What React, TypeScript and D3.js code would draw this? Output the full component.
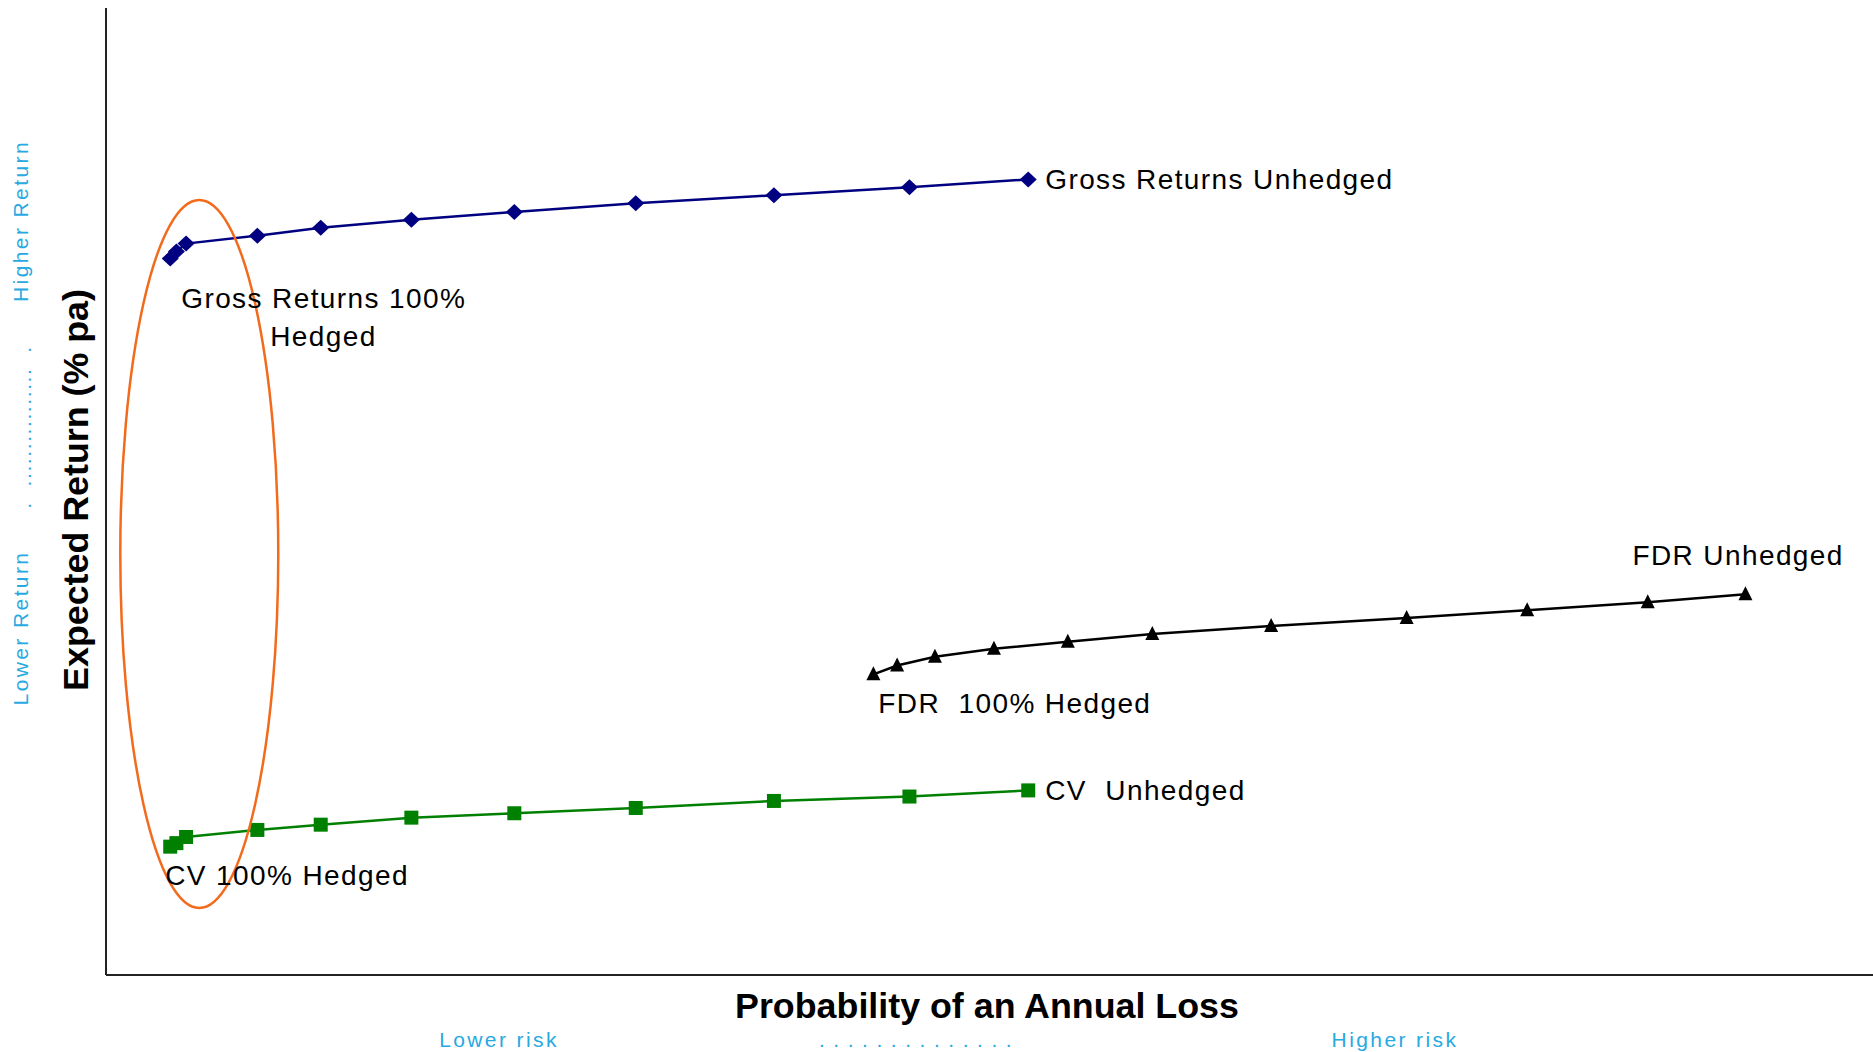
import React from "react";
import * as d3 from "d3";

// Probability of an annual loss (%) — hedge ratio steps from 100% hedged to unhedged
const grossX = [0.73, 0.8, 0.91, 1.72, 2.44, 3.47, 4.64, 6.02, 7.59, 9.13, 10.48];
const grossY = [8.15, 8.23, 8.32, 8.41, 8.5, 8.59, 8.68, 8.78, 8.87, 8.96, 9.05];
const cvX = [0.73, 0.8, 0.91, 1.72, 2.44, 3.47, 4.64, 6.02, 7.59, 9.13, 10.48];
const cvY = [1.46, 1.5, 1.57, 1.65, 1.71, 1.79, 1.84, 1.9, 1.98, 2.03, 2.1];
const fdrX = [8.72, 8.99, 9.42, 10.09, 10.93, 11.89, 13.24, 14.78, 16.15, 17.52, 18.63];
const fdrY = [3.42, 3.52, 3.62, 3.71, 3.79, 3.88, 3.97, 4.06, 4.15, 4.24, 4.33];

const xDomain = [0, 20];
const yDomain = [0, 11];

const W = 1873;
const H = 1052;
const left = 106;
const right = 1866;
const top = 8;
const bottom = 975;

const blue = "#27A9E1";
const labelFont = "'Liberation Sans', Arial, sans-serif";

export default function App() {
  const x = d3.scaleLinear().domain(xDomain).range([left, right]);
  const y = d3.scaleLinear().domain(yDomain).range([bottom, top]);
  const line = d3
    .line<[number, number]>()
    .x((d) => x(d[0]))
    .y((d) => y(d[1]))
    .curve(d3.curveLinear);

  const gross: [number, number][] = grossX.map((v, i) => [v, grossY[i]]);
  const cv: [number, number][] = cvX.map((v, i) => [v, cvY[i]]);
  const fdr: [number, number][] = fdrX.map((v, i) => [v, fdrY[i]]);

  const diamond = (cx: number, cy: number) =>
    `M${cx},${cy - 8}L${cx + 8.5},${cy}L${cx},${cy + 8}L${cx - 8.5},${cy}Z`;
  const tri = (cx: number, cy: number) =>
    `M${cx},${cy - 8}L${cx + 7},${cy + 6}L${cx - 7},${cy + 6}Z`;

  const lbl = {
    fontFamily: labelFont,
    fontSize: 28,
    letterSpacing: 1.4,
    fill: "#000",
  } as const;
  const blueTxt = {
    fontFamily: labelFont,
    fontSize: 21,
    letterSpacing: 2.4,
    fill: blue,
  } as const;

  const gLast = gross[gross.length - 1];
  const cLast = cv[cv.length - 1];
  const fFirst = fdr[0];
  const fLast = fdr[fdr.length - 1];
  const gFirst = gross[0];
  const cFirst = cv[0];

  // annotation ellipse around the hedged end
  const ellCx = x(1.06);
  const ellCy = y(4.79);

  return (
    <svg
      width={W}
      height={H}
      style={{ position: "absolute", left: 0, top: 0, background: "#fff" }}
      xmlSpace="preserve"
    >
      <rect width={W} height={H} fill="#fff" />
      {/* axes */}
      <line x1={left} y1={top} x2={left} y2={bottom} stroke="#222" strokeWidth={2} />
      <line x1={left} y1={bottom} x2={W} y2={bottom} stroke="#222" strokeWidth={2} />

      {/* series lines */}
      <path d={line(gross) || ""} fill="none" stroke="#000080" strokeWidth={2.5} />
      <path d={line(cv) || ""} fill="none" stroke="#008000" strokeWidth={2.5} />
      <path d={line(fdr) || ""} fill="none" stroke="#000" strokeWidth={2.5} />

      {/* markers */}
      {gross.map((d, i) => (
        <path key={"g" + i} d={diamond(x(d[0]), y(d[1]))} fill="#000080" />
      ))}
      {cv.map((d, i) => (
        <rect
          key={"c" + i}
          x={x(d[0]) - 7}
          y={y(d[1]) - 7}
          width={14}
          height={14}
          fill="#008000"
        />
      ))}
      {fdr.map((d, i) => (
        <path key={"f" + i} d={tri(x(d[0]), y(d[1]))} fill="#000" />
      ))}

      {/* ellipse */}
      <ellipse cx={ellCx} cy={ellCy} rx={79} ry={354} fill="none" stroke="#F26B1D" strokeWidth={2.5} />

      {/* series labels */}
      <text {...lbl} x={x(gLast[0]) + 17} y={y(gLast[1])} dy="0.35em">
        Gross Returns Unhedged
      </text>
      <text {...lbl} x={x(gFirst[0]) + 11} y={y(gFirst[1]) + 40} dy="0.35em">
        Gross Returns 100%
      </text>
      <text {...lbl} x={x(gFirst[0]) + 100} y={y(gFirst[1]) + 78} dy="0.35em">
        Hedged
      </text>
      <text {...lbl} x={x(fLast[0]) - 113} y={y(fLast[1]) - 39} dy="0.35em">
        FDR Unhedged
      </text>
      <text {...lbl} x={x(fFirst[0]) + 5} y={y(fFirst[1]) + 29} dy="0.35em" style={{ whiteSpace: "pre" }}>
        {"FDR  100% Hedged"}
      </text>
      <text {...lbl} x={x(cLast[0]) + 17} y={y(cLast[1])} dy="0.35em" style={{ whiteSpace: "pre" }}>
        {"CV  Unhedged"}
      </text>
      <text {...lbl} x={x(cFirst[0]) - 5} y={y(cFirst[1]) + 29} dy="0.35em">
        CV 100% Hedged
      </text>

      {/* axis titles */}
      <text
        x={987}
        y={1005}
        dy="0.35em"
        textAnchor="middle"
        fontFamily={labelFont}
        fontWeight="bold"
        fontSize={35.8}
        fill="#000"
      >
        Probability of an Annual Loss
      </text>
      <text
        transform="translate(75,490) rotate(-90)"
        dy="0.35em"
        textAnchor="middle"
        fontFamily={labelFont}
        fontWeight="bold"
        fontSize={35.8}
        fill="#000"
      >
        Expected Return (% pa)
      </text>

      {/* blue direction hints */}
      <text {...blueTxt} x={499} y={1040} dy="0.35em" textAnchor="middle">
        Lower risk
      </text>
      <text
        {...blueTxt}
        letterSpacing={1.35}
        x={916}
        y={1040}
        dy="0.35em"
        textAnchor="middle"
        style={{ whiteSpace: "pre" }}
      >
        {". . . . . . . . . . . . . ."}
      </text>
      <text {...blueTxt} x={1395} y={1040} dy="0.35em" textAnchor="middle">
        Higher risk
      </text>
      <text {...blueTxt} transform="translate(21,221) rotate(-90)" dy="0.35em" textAnchor="middle">
        Higher Return
      </text>
      <text
        {...blueTxt}
        letterSpacing={1.6}
        transform="translate(24,427) rotate(-90)"
        dy="0.35em"
        textAnchor="middle"
        style={{ whiteSpace: "pre" }}
      >
        {".  ................  ."}
      </text>
      <text {...blueTxt} transform="translate(21,628) rotate(-90)" dy="0.35em" textAnchor="middle">
        Lower Return
      </text>
    </svg>
  );
}
